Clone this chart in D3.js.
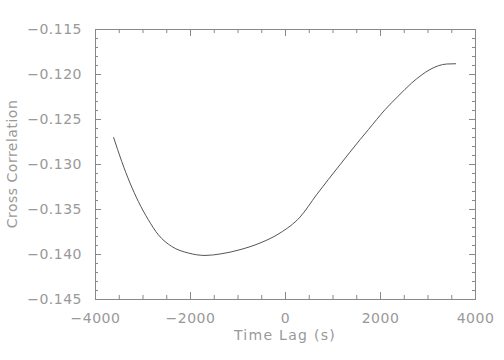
<!DOCTYPE html>
<html>
<head>
<meta charset="utf-8">
<script src="https://cdn.jsdelivr.net/npm/d3@7"></script>
<style>
  body { margin: 0; background: #fff; }
  text { font-family: "DejaVu Sans", sans-serif; fill: #999; }
</style>
</head>
<body>
<div id="chart"></div>
<script>
// Data
const lags = [-3610, -3438, -3263, -3088, -2878, -2667, -2385, -2036, -1684, -1368,
              -947, -526, -105, 316, 667, 1158, 1579, 1754, 2105, 2385, 2667, 2878, 3053, 3404, 3600];
const corr = [-0.12702, -0.12971, -0.13211, -0.13416, -0.13619, -0.13786, -0.13916, -0.13989,
              -0.14016, -0.14000, -0.13952, -0.13878, -0.13767, -0.13590, -0.13340,
              -0.13008, -0.12730, -0.12619, -0.12397, -0.12245, -0.12100, -0.12010, -0.11950,
              -0.11889, -0.11886];

const xTicks = [-4000, -2000, 0, 2000, 4000];
const yTicks = [-0.115, -0.120, -0.125, -0.130, -0.135, -0.140, -0.145];

const margin = { top: 29, right: 29, bottom: 61, left: 95 };
const W = 504, H = 360;
const width = W - margin.left - margin.right;
const height = H - margin.top - margin.bottom;

const svg = d3.select("#chart")
    .append("svg")
    .attr("width", W)
    .attr("height", H)
    .append("g")
    .attr("transform", `translate(${margin.left},${margin.top})`);

const x = d3.scaleLinear().domain([-4000, 4000]).range([0, width]);
const y = d3.scaleLinear().domain([-0.145, -0.115]).range([height, 0]);

const axisColor = "#888";
const minorX = d3.range(-4000, 4001, 500);
const minorY = d3.range(0, 31).map(i => -0.145 + i * 0.001);

function styleAxis(g) {
    g.select(".domain").attr("stroke", axisColor);
    g.selectAll(".tick line").attr("stroke", axisColor);
    g.selectAll(".tick text")
        .attr("fill", "#999")
        .style("font-size", "14px")
        .style("letter-spacing", "0.5px")
        .style("font-family", "DejaVu Sans, sans-serif");
}

// Minor ticks (no labels)
svg.append("g").attr("transform", `translate(0,${height})`)
    .call(d3.axisBottom(x).tickValues(minorX).tickSize(-4).tickFormat(""))
    .call(styleAxis);
svg.append("g")
    .call(d3.axisTop(x).tickValues(minorX).tickSize(-4).tickFormat(""))
    .call(styleAxis);
svg.append("g")
    .call(d3.axisLeft(y).tickValues(minorY).tickSize(-3).tickFormat(""))
    .call(styleAxis);
svg.append("g").attr("transform", `translate(${width},0)`)
    .call(d3.axisRight(y).tickValues(minorY).tickSize(-3).tickFormat(""))
    .call(styleAxis);

// Major ticks
svg.append("g").attr("transform", `translate(0,${height})`)
    .call(d3.axisBottom(x).tickValues(xTicks).tickSize(-7).tickPadding(14).tickFormat(d3.format("d")))
    .call(styleAxis);
svg.append("g")
    .call(d3.axisTop(x).tickValues(xTicks).tickSize(-7).tickFormat(""))
    .call(styleAxis);
svg.append("g")
    .call(d3.axisLeft(y).tickValues(yTicks).tickSize(-6).tickPadding(13).tickFormat(d3.format(".3f")))
    .call(styleAxis);
svg.append("g").attr("transform", `translate(${width},0)`)
    .call(d3.axisRight(y).tickValues(yTicks).tickSize(-6).tickFormat(""))
    .call(styleAxis);

// Curve
const pts = lags.map((t, i) => [t, corr[i]]);
svg.append("path")
    .datum(pts)
    .attr("fill", "none")
    .attr("stroke", "#555")
    .attr("stroke-width", 1)
    .attr("d", d3.line().x(d => x(d[0])).y(d => y(d[1])).curve(d3.curveMonotoneX));

// Axis titles
svg.append("text")
    .attr("x", width / 2)
    .attr("y", height + 41)
    .style("text-anchor", "middle")
    .style("font-size", "14px")
    .style("letter-spacing", "1.3px")
    .text("Time Lag (s)");

svg.append("text")
    .attr("transform", "rotate(-90)")
    .attr("x", -height / 2)
    .attr("y", -78)
    .style("text-anchor", "middle")
    .style("font-size", "14px")
    .style("letter-spacing", "0.5px")
    .text("Cross Correlation");
</script>
</body>
</html>
